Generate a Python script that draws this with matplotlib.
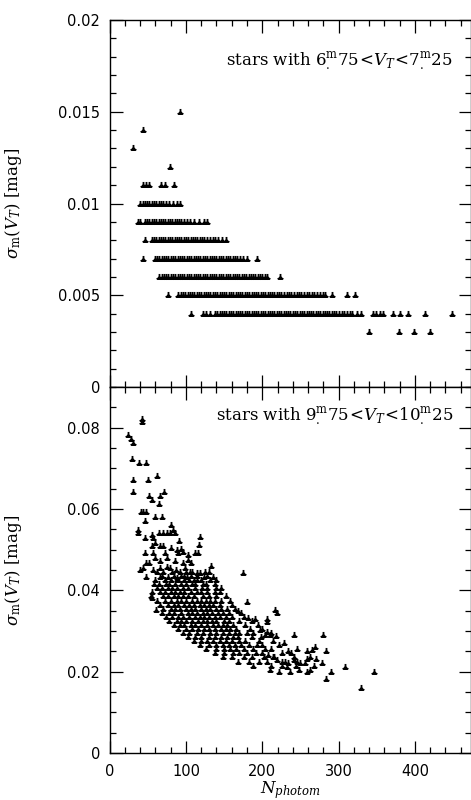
import matplotlib
matplotlib.use('Agg')
import matplotlib.pyplot as plt
from matplotlib.ticker import MultipleLocator, FuncFormatter

plt.rcParams['mathtext.fontset'] = 'dejavuserif'

# ---------------- data: top panel (6.75 < VT < 7.25), quantised sigma levels ----------------
top_levels = [0.015, 0.014, 0.013, 0.012, 0.011, 0.010, 0.009, 0.008, 0.007, 0.006, 0.005, 0.004, 0.003]
n_015 = [92]
n_014 = [44]
n_013 = [31]
n_012 = [79]
n_011 = [44, 48, 52, 67, 72, 84]
n_010 = [40, 43, 46, 49, 52, 55, 58, 61, 64, 67, 70, 74, 78, 83, 88, 92]
n_009 = [37, 40, 46, 49, 52, 55, 58, 61, 64, 67, 70, 73, 76, 79, 82, 85, 88, 91, 94, 97,
         101, 105, 110, 117, 123, 127]
n_008 = [46, 55, 58, 61, 64, 67, 70, 73, 76, 79, 82, 85, 88, 91, 94, 97, 100, 103, 106, 109,
         112, 115, 118, 121, 124, 127, 131, 135, 138, 142, 147, 152]
n_007 = [44, 59, 62, 65, 68, 71, 74, 77, 80, 83, 86, 89, 92, 95, 98, 101, 104, 107, 110, 113,
         116, 119, 122, 125, 128, 131, 134, 137, 140, 143, 146, 149, 152, 155, 158, 161, 164, 167,
         171, 175, 180, 193]
n_006 = [65, 68, 71, 74, 77, 80, 83, 86, 89, 92, 95, 98, 101, 104, 107, 110, 113, 116, 119, 122,
         125, 128, 131, 134, 137, 140, 143, 146, 149, 152, 155, 158, 161, 164, 167, 170, 173, 176,
         179, 182, 185, 188, 191, 194, 197, 200, 203, 206, 223]
n_005 = [77, 90, 93, 96, 99, 102, 105, 108, 111, 114, 117, 120, 123, 126, 129, 132, 135, 138, 141,
         144, 147, 150, 153, 156, 159, 162, 165, 168, 171, 174, 177, 180, 183, 186, 189, 192, 195,
         198, 201, 204, 207, 210, 213, 216, 219, 222, 225, 228, 232, 235, 238, 241, 245, 248, 251,
         255, 258, 261, 265, 268, 272, 276, 279, 282, 292, 311, 321]
n_004 = [106, 122, 126, 131, 138, 141, 144, 147, 150, 153, 156, 159, 162, 165, 168, 171, 174, 177,
         180, 183, 186, 189, 192, 195, 198, 201, 204, 207, 210, 213, 216, 219, 222, 225, 228, 231,
         234, 237, 240, 243, 246, 249, 252, 255, 258, 261, 264, 267, 270, 273, 276, 279, 282, 285,
         288, 291, 294, 297, 300, 304, 307, 311, 315, 318, 324, 330, 345, 349, 354, 358, 371, 380,
         391, 413, 449]
n_003 = [340, 379, 399, 420]
top_rows = [n_015, n_014, n_013, n_012, n_011, n_010, n_009, n_008, n_007, n_006, n_005, n_004, n_003]

# ---------------- data: bottom panel (9.75 < VT < 10.25) ----------------
# scattered outer points
n_bot = [42, 42, 24, 28, 30, 29, 38, 48, 62, 31,
         50, 30, 52, 56, 66, 71, 65, 41, 44, 48,
         46, 60, 69, 81, 37, 37, 46, 55, 57, 64,
         70, 75, 79, 83, 86, 91, 118, 117, 55, 59,
         66, 70, 81, 88, 94, 46, 57, 72, 90, 96,
         102, 112, 116, 48, 51, 59, 66, 75, 86, 96,
         103, 107, 40, 44, 57, 66, 75, 79, 87, 99,
         105, 114, 118, 133, 175, 47, 66, 77, 88, 101,
         110, 123, 135, 55, 61, 180, 168, 219, 217, 181,
         191, 206, 206, 241, 280, 228, 234, 258, 265, 269,
         283, 214, 219, 230, 234, 241, 242, 249, 256, 258,
         271, 278, 308, 232, 222, 236, 290, 284, 258, 346,
         329, 208, 193, 204, 218, 210, 197, 206]
s_bot = [0.0822, 0.0813, 0.0782, 0.0772, 0.0762, 0.0722, 0.0713, 0.0713, 0.0681, 0.0672,
         0.0672, 0.0641, 0.0633, 0.0622, 0.0633, 0.0641, 0.0612, 0.0592, 0.0592, 0.0592,
         0.0571, 0.0581, 0.0581, 0.0561, 0.0549, 0.0541, 0.0528, 0.0536, 0.0529, 0.0540,
         0.0541, 0.0541, 0.0541, 0.0549, 0.0541, 0.0522, 0.0531, 0.0512, 0.0510, 0.0517,
         0.0510, 0.0510, 0.0504, 0.0500, 0.0502, 0.0491, 0.0491, 0.0491, 0.0492, 0.0495,
         0.0487, 0.0491, 0.0491, 0.0468, 0.0468, 0.0479, 0.0472, 0.0479, 0.0472, 0.0468,
         0.0475, 0.0468, 0.0450, 0.0454, 0.0450, 0.0454, 0.0457, 0.0454, 0.0450, 0.0454,
         0.0446, 0.0442, 0.0442, 0.0460, 0.0442, 0.0432, 0.0434, 0.0434, 0.0430, 0.0434,
         0.0426, 0.0434, 0.0432, 0.0380, 0.0352, 0.0371, 0.0350, 0.0344, 0.0352, 0.0331,
         0.0329, 0.0329, 0.0321, 0.0290, 0.0290, 0.0271, 0.0252, 0.0252, 0.0253, 0.0260,
         0.0252, 0.0237, 0.0229, 0.0225, 0.0221, 0.0237, 0.0229, 0.0222, 0.0221, 0.0231,
         0.0231, 0.0221, 0.0211, 0.0211, 0.0200, 0.0200, 0.0200, 0.0181, 0.0200, 0.0200,
         0.0161, 0.0241, 0.0266, 0.0290, 0.0288, 0.0290, 0.0303, 0.0298]

# dense core of the bottom cloud, read row by row
core_levels = [0.0445, 0.0435, 0.0425, 0.0415, 0.0405, 0.0395, 0.0385, 0.0375, 0.0365, 0.0355,
               0.0345, 0.0335, 0.0325, 0.0315, 0.0305, 0.0295, 0.0285, 0.0275, 0.0265, 0.0255,
               0.0245, 0.0235, 0.0225, 0.0215, 0.0205]
core_rows = [
    [62, 70, 82, 92, 100, 108, 125, 130],
    [68, 84, 93, 97, 106, 115, 128],
    [60, 72, 80, 90, 98, 104, 115, 120, 131, 140],
    [58, 64, 74, 78, 86, 94, 100, 108, 112, 122, 126, 138],
    [62, 68, 76, 82, 88, 96, 102, 112, 121, 128, 140, 146],
    [56, 66, 72, 80, 86, 92, 98, 106, 114, 120, 128, 138, 144],
    [54, 70, 76, 84, 90, 96, 102, 110, 122, 130, 140, 152],
    [62, 72, 80, 88, 94, 100, 108, 114, 120, 126, 132, 138, 146, 158],
    [66, 76, 84, 90, 98, 104, 110, 118, 124, 130, 136, 144, 160],
    [70, 80, 86, 92, 100, 106, 112, 120, 126, 132, 140, 146, 154, 164],
    [68, 78, 84, 94, 102, 108, 114, 122, 128, 134, 142, 148, 156, 172],
    [74, 82, 90, 96, 104, 112, 118, 124, 130, 138, 144, 152, 160, 176],
    [78, 88, 94, 100, 108, 116, 122, 128, 134, 140, 150, 156, 170, 186],
    [84, 92, 98, 106, 112, 120, 128, 136, 142, 148, 154, 162, 178, 194],
    [90, 100, 108, 116, 124, 130, 138, 146, 152, 158, 166, 184, 200],
    [96, 104, 114, 122, 132, 140, 148, 156, 164, 170, 180, 188, 212],
    [102, 112, 120, 130, 138, 146, 154, 162, 168, 186, 198],
    [110, 120, 128, 136, 144, 152, 160, 170, 178, 196, 214],
    [118, 130, 140, 148, 156, 164, 172, 182, 200, 222],
    [126, 140, 150, 158, 166, 176, 188, 204, 212, 246],
    [138, 150, 162, 170, 180, 192, 200, 226, 238],
    [148, 160, 176, 186, 202, 216, 262],
    [168, 182, 196, 206, 226, 246],
    [188, 212, 226, 244, 268],
    [210, 248, 262],
]

x_ticks = [0, 100, 200, 300, 400]
top_yticks = [0, 0.005, 0.01, 0.015, 0.02]
bot_yticks = [0, 0.02, 0.04, 0.06, 0.08]

# ---------------- build point lists ----------------
tx, ty = [], []
for lev, row in zip(top_levels, top_rows):
    tx += row
    ty += [lev] * len(row)

bx, by = list(n_bot), list(s_bot)
for lev, row in zip(core_levels, core_rows):
    bx += row
    by += [lev] * len(row)

# ---------------- figure ----------------
W, H = 471, 800
fig = plt.figure(figsize=(W / 100, H / 100), dpi=100)
x0 = 109.7 / W
wid = (470.5 - 109.7) / W
ax1 = fig.add_axes([x0, 1 - 387 / H, wid, 367 / H])
ax2 = fig.add_axes([x0, 1 - 753 / H, wid, 366 / H])

fmt = FuncFormatter(lambda v, p: f'{v:g}')

for ax in (ax1, ax2):
    ax.set_xlim(0, 473)
    ax.xaxis.set_major_locator(MultipleLocator(100))
    ax.xaxis.set_minor_locator(MultipleLocator(20))
    ax.tick_params(which='both', direction='in', top=True, right=True, width=0.9,
                   labelsize=10.5)
    ax.tick_params(which='major', length=9)
    ax.tick_params(which='minor', length=4.5)
    ax.tick_params(axis='y', which='major', pad=7)
    ax.tick_params(axis='x', which='major', pad=8)
    for sp in ax.spines.values():
        sp.set_linewidth(1.0)
    ax.yaxis.set_major_formatter(fmt)


def draw_points(ax, xs, ys):
    # small filled triangle with three-pronged outline, like the reference symbol
    ax.scatter(xs, ys, marker='^', s=13, c='black', linewidths=0)
    ax.scatter(xs, ys, marker='2', s=26, c='black', linewidths=1.3)


draw_points(ax1, tx, ty)
ax1.set_ylim(0, 0.02)
ax1.set_yticks(top_yticks)
ax1.yaxis.set_minor_locator(MultipleLocator(0.001))
ax1.tick_params(labelbottom=False)

draw_points(ax2, bx, by)
ax2.set_ylim(0, 0.09)
ax2.set_yticks(bot_yticks)
ax2.yaxis.set_minor_locator(MultipleLocator(0.005))
ax2.set_xticks(x_ticks)
ax2.xaxis.set_major_formatter(fmt)

serif = 'DejaVu Serif'
for ax in (ax1, ax2):
    ax.set_ylabel(r'$\sigma_{\mathrm{m}}(V_T)$ [mag]', family=serif, fontsize=12)
    ax.yaxis.set_label_coords(-0.238, 0.5)

ax2.set_xlabel(r'$N_{photom}$', fontsize=12)
ax2.xaxis.set_label_coords(0.5, -0.072)

ax1.text(0.951, 0.886, r'stars with $6^{\mathrm{m}}_{.}75\!<\!V_T\!<\!7^{\mathrm{m}}_{.}25$',
         transform=ax1.transAxes, ha='right', va='center', family=serif, fontsize=12)
ax2.text(0.951, 0.918, r'stars with $9^{\mathrm{m}}_{.}75\!<\!V_T\!<\!10^{\mathrm{m}}_{.}25$',
         transform=ax2.transAxes, ha='right', va='center', family=serif, fontsize=12)

fig.savefig('out.png', dpi=100)
